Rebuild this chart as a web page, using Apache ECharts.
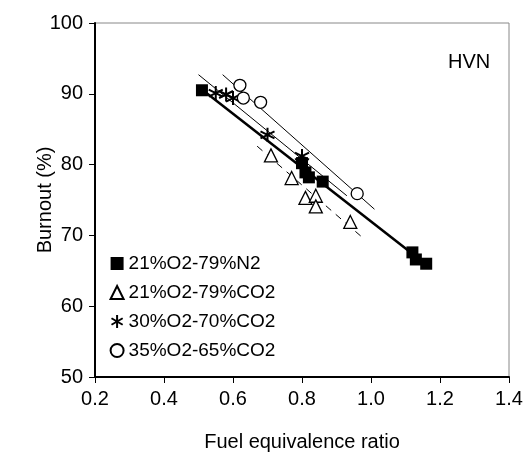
<!DOCTYPE html>
<html><head><meta charset="utf-8">
<script src="https://cdn.jsdelivr.net/npm/echarts@6/dist/echarts.min.js"></script>
<style>html,body{margin:0;padding:0;background:#fff}#c{width:530px;height:459px}</style>
</head><body><div id="c"></div>
<script>
// Series values
var n2X = [0.51, 0.80, 0.81, 0.82, 0.86, 1.12, 1.13, 1.16];
var n2Y = [90.5, 80.2, 78.9, 78.2, 77.6, 67.6, 66.6, 66.0];
var co21X = [0.71, 0.77, 0.81, 0.84, 0.84, 0.94];
var co21Y = [81.3, 78.1, 75.3, 75.6, 74.1, 71.9];
var co30X = [0.55, 0.58, 0.60, 0.70, 0.80];
var co30Y = [90.1, 89.9, 89.4, 84.2, 81.2];
var co35X = [0.62, 0.63, 0.68, 0.96];
var co35Y = [91.2, 89.4, 88.8, 75.9];
// trend line endpoints
var fitN2X = [0.51, 1.12], fitN2Y = [90.6, 67.4];
var fit21X = [0.67, 0.98], fit21Y = [82.6, 69.5];
var fit30X = [0.50, 0.93], fit30Y = [92.7, 75.6];
var fit35X = [0.57, 1.01], fit35Y = [92.7, 73.7];
var names = ['21%O2-79%N2', '21%O2-79%CO2', '30%O2-70%CO2', '35%O2-65%CO2'];
var xTicks = [0.2, 1.4, 0.2]; // min, max, interval
var yTicks = [50, 100, 10];

function pts(xs, ys) { return xs.map(function (x, i) { return [x, ys[i]]; }); }
var FONT = 'Liberation Sans, Arial, sans-serif';
var star = 'path://M5,0L5,10M0.7,2.5L9.3,7.5M0.7,7.5L9.3,2.5';

var chart = echarts.init(document.getElementById('c'), null, { renderer: 'canvas' });
chart.setOption({
  animation: false,
  backgroundColor: '#fff',
  title: { text: 'HVN', left: 443, top: 47, textStyle: { fontFamily: FONT, fontSize: 20, fontWeight: 'normal', color: '#000' } },
  grid: { left: 95, right: 21, top: 23, bottom: 82, show: true, borderColor: '#888', borderWidth: 1, backgroundColor: 'transparent' },
  legend: {
    orient: 'vertical', left: 104, top: 249, itemGap: 10, itemWidth: 13, itemHeight: 13,
    data: names,
    textStyle: { fontFamily: FONT, fontSize: 19, color: '#000', padding: [0, 0, 0, 0] }
  },
  xAxis: {
    type: 'value', min: xTicks[0], max: xTicks[1], interval: xTicks[2],
    name: 'Fuel equivalence ratio', nameLocation: 'middle', nameGap: 55,
    nameTextStyle: { fontFamily: FONT, fontSize: 20, color: '#000' },
    axisLine: { lineStyle: { color: '#000', width: 2 } },
    axisTick: { inside: false, length: 6, lineStyle: { color: '#000', width: 1 } },
    axisLabel: { fontFamily: FONT, fontSize: 20, color: '#000', margin: 12, formatter: function (v) { return v.toFixed(1); } },
    splitLine: { show: false }
  },
  yAxis: {
    type: 'value', min: yTicks[0], max: yTicks[1], interval: yTicks[2],
    name: 'Burnout (%)', nameLocation: 'middle', nameGap: 40, nameMoveOverlap: false,
    nameTextStyle: { fontFamily: FONT, fontSize: 20, color: '#000' },
    axisLine: { lineStyle: { color: '#000', width: 2 } },
    axisTick: { inside: false, length: 6, lineStyle: { color: '#000', width: 1 } },
    axisLabel: { fontFamily: FONT, fontSize: 20, color: '#000', margin: 12 },
    splitLine: { show: false }
  },
  series: [
    { type: 'line', data: pts(fitN2X, fitN2Y), showSymbol: false, silent: true, lineStyle: { color: '#000', width: 2.5 }, z: 1 },
    { type: 'line', data: pts(fit21X, fit21Y), showSymbol: false, silent: true, lineStyle: { color: '#000', width: 1, type: [7, 6] }, z: 1 },
    { type: 'line', data: pts(fit30X, fit30Y), showSymbol: false, silent: true, lineStyle: { color: '#000', width: 1 }, z: 1 },
    { type: 'line', data: pts(fit35X, fit35Y), showSymbol: false, silent: true, lineStyle: { color: '#000', width: 1 }, z: 1 },
    { name: names[0], type: 'scatter', data: pts(n2X, n2Y), symbol: 'rect', symbolSize: 12,
      itemStyle: { color: '#000', borderColor: '#000', borderWidth: 0, opacity: 1 }, z: 3 },
    { name: names[1], type: 'scatter', data: pts(co21X, co21Y), symbol: 'triangle', symbolSize: 13,
      itemStyle: { color: '#fff', borderColor: '#000', borderWidth: 1.3, opacity: 1 }, z: 3 },
    { name: names[2], type: 'scatter', data: pts(co30X, co30Y), symbol: star, symbolSize: 14,
      itemStyle: { color: 'none', borderColor: '#000', borderWidth: 2, opacity: 1 }, z: 3 },
    { name: names[3], type: 'scatter', data: pts(co35X, co35Y), symbol: 'circle', symbolSize: 12,
      itemStyle: { color: '#fff', borderColor: '#000', borderWidth: 1.3, opacity: 1 }, z: 3 }
  ]
});
</script></body></html>
